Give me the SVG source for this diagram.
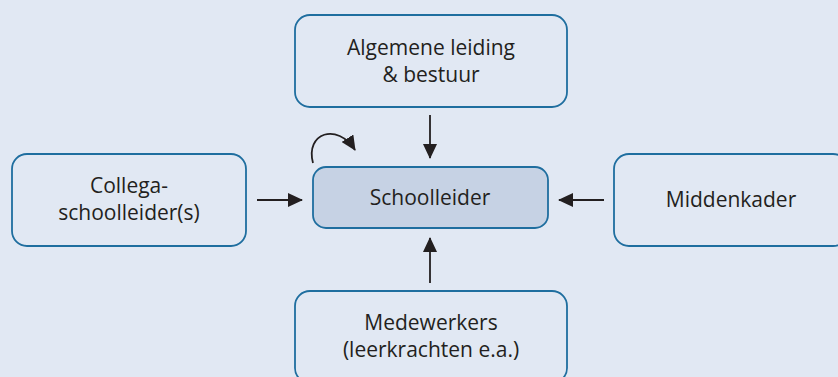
<svg xmlns="http://www.w3.org/2000/svg" width="838" height="377" viewBox="0 0 838 377">
<defs>
<style>
.box{fill:#e1e8f3;stroke:#1f6e9f;stroke-width:1.8}
.main{fill:#c6d2e4;stroke:#1f6e9f;stroke-width:1.8}
.t{font-family:"Open Sans","Liberation Sans",sans-serif;font-size:21px;fill:#231f20;text-anchor:middle}
.c{stroke:#231f20;stroke-width:1.8;fill:none}
</style>
<marker id="ah" viewBox="0 0 15 14" refX="14" refY="7" markerWidth="15" markerHeight="14" markerUnits="userSpaceOnUse" orient="auto">
<path d="M0,0 L15,7 L0,14 Z" fill="#231f20"/>
</marker>
</defs>
<rect width="838" height="377" fill="#e1e8f3"/>
<g id="top">
<rect class="box" x="295" y="15" width="272" height="92" rx="15"/>
<text class="t" x="431" y="55">Algemene leiding</text>
<text class="t" x="431" y="82">&amp; bestuur</text>
</g>
<g id="left">
<rect class="box" x="12" y="154" width="234" height="92" rx="15"/>
<text class="t" x="129" y="193">Collega-</text>
<text class="t" x="129" y="220">schoolleider(s)</text>
</g>
<g id="center">
<rect class="main" x="313" y="167" width="235" height="61" rx="13"/>
<text class="t" x="430" y="205">Schoolleider</text>
</g>
<g id="right">
<rect class="box" x="614" y="154" width="234" height="92" rx="15"/>
<text class="t" x="731" y="207">Middenkader</text>
</g>
<g id="bottom">
<rect class="box" x="295" y="291" width="272" height="92" rx="15"/>
<text class="t" x="431" y="330">Medewerkers</text>
<text class="t" x="431" y="357">(leerkrachten e.a.)</text>
</g>
<g id="connectors">
<line class="c" x1="430" y1="115" x2="430" y2="158" marker-end="url(#ah)"/>
<line class="c" x1="257" y1="200" x2="302" y2="200" marker-end="url(#ah)"/>
<line class="c" x1="604" y1="200" x2="559" y2="200" marker-end="url(#ah)"/>
<line class="c" x1="430" y1="283" x2="430" y2="238" marker-end="url(#ah)"/>
<path class="c" d="M313,163 C305,133 337,122 355,150" marker-end="url(#ah)"/>
</g>
</svg>
